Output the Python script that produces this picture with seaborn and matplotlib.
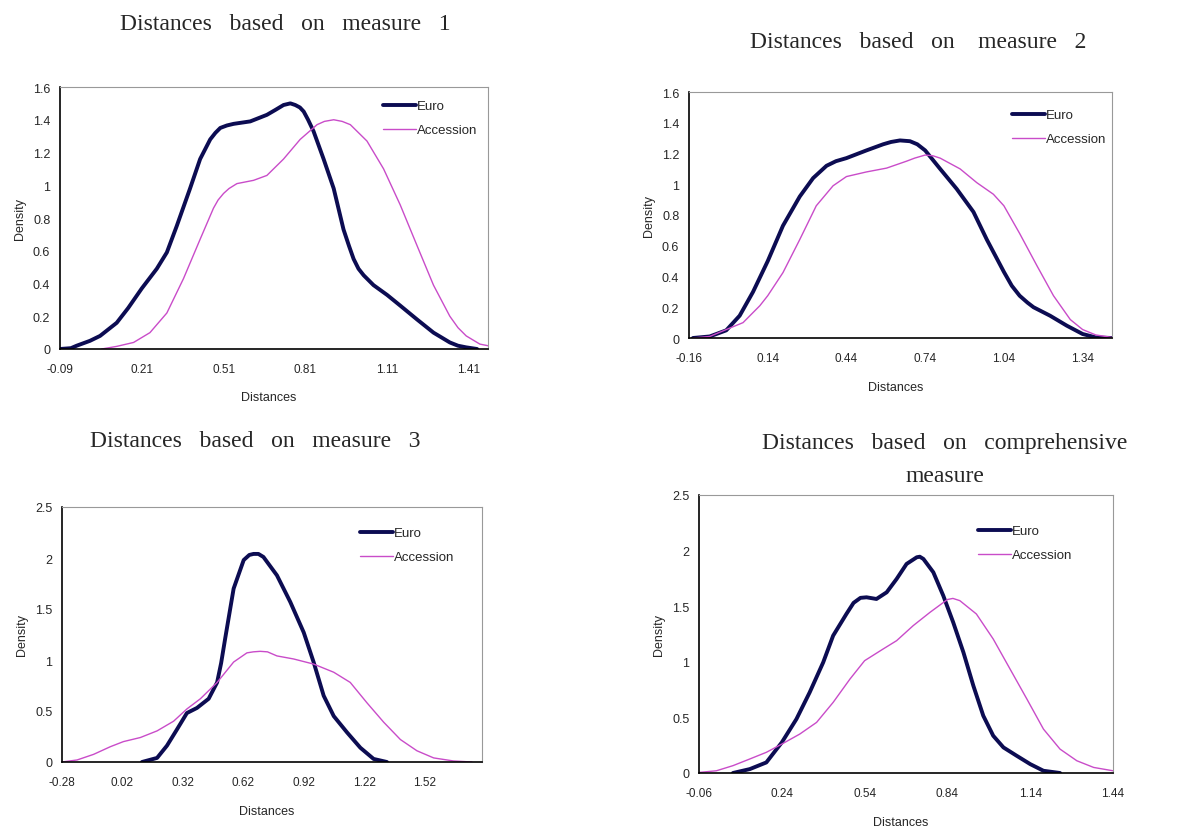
import numpy as np
import pandas as pd
import matplotlib
matplotlib.use("Agg")
import matplotlib.pyplot as plt
import seaborn as sns

# ---------------- data ----------------
series_names = ["Euro", "Accession"]

# Panel 1: measure 1
m1_euro_x = [-0.09, -0.05, -0.029, 0.02, 0.057, 0.118, 0.16, 0.21, 0.265, 0.302, 0.338, 0.387,
             0.424, 0.461, 0.48, 0.498, 0.522, 0.547, 0.608, 0.669, 0.70, 0.73, 0.755, 0.773,
             0.79, 0.804, 0.82, 0.84, 0.877, 0.914, 0.95, 0.97, 0.987, 1.005, 1.024, 1.06,
             1.11, 1.158, 1.22, 1.28, 1.34, 1.37, 1.40, 1.44]
m1_euro_y = [0.0, 0.005, 0.02, 0.05, 0.08, 0.16, 0.25, 0.37, 0.49, 0.59, 0.75, 0.98,
             1.16, 1.28, 1.32, 1.35, 1.365, 1.375, 1.39, 1.43, 1.46, 1.49, 1.50, 1.49,
             1.475, 1.45, 1.40, 1.33, 1.16, 0.98, 0.73, 0.63, 0.55, 0.49, 0.45, 0.39,
             0.33, 0.265, 0.18, 0.10, 0.04, 0.02, 0.01, 0.0]
m1_acc_x = [0.063, 0.118, 0.18, 0.24, 0.302, 0.363, 0.424, 0.473, 0.49, 0.51, 0.53, 0.559,
            0.62, 0.669, 0.73, 0.791, 0.853, 0.88, 0.914, 0.945, 0.975, 1.036, 1.097, 1.158,
            1.22, 1.28, 1.34, 1.37, 1.40, 1.45, 1.48]
m1_acc_y = [0.0, 0.016, 0.04, 0.10, 0.22, 0.43, 0.67, 0.86, 0.91, 0.95, 0.98, 1.01,
            1.03, 1.06, 1.16, 1.28, 1.37, 1.39, 1.40, 1.39, 1.37, 1.27, 1.10, 0.88,
            0.63, 0.39, 0.20, 0.13, 0.08, 0.03, 0.02]

# Panel 2: measure 2
m2_euro_x = [-0.145, -0.081, -0.018, 0.033, 0.084, 0.14, 0.198, 0.262, 0.313, 0.364, 0.40,
             0.44, 0.516, 0.58, 0.61, 0.644, 0.682, 0.71, 0.74, 0.797, 0.86, 0.924, 0.975,
             1.04, 1.07, 1.10, 1.13, 1.153, 1.216, 1.28, 1.34, 1.39, 1.45]
m2_euro_y = [0.0, 0.01, 0.05, 0.145, 0.30, 0.50, 0.73, 0.92, 1.04, 1.12, 1.15,
             1.17, 1.22, 1.26, 1.275, 1.285, 1.28, 1.26, 1.22, 1.10, 0.97, 0.82, 0.64,
             0.43, 0.34, 0.275, 0.23, 0.20, 0.145, 0.08, 0.026, 0.004, 0.0]
m2_acc_x = [-0.145, -0.081, -0.018, 0.046, 0.11, 0.14, 0.198, 0.262, 0.325, 0.389, 0.44,
            0.516, 0.593, 0.669, 0.70, 0.74, 0.77, 0.797, 0.873, 0.937, 1.0, 1.04, 1.10,
            1.166, 1.229, 1.293, 1.34, 1.39, 1.45]
m2_acc_y = [0.0, 0.01, 0.055, 0.10, 0.21, 0.275, 0.425, 0.64, 0.86, 0.99, 1.05,
            1.08, 1.105, 1.15, 1.17, 1.19, 1.185, 1.17, 1.10, 1.01, 0.935, 0.86, 0.68,
            0.47, 0.275, 0.12, 0.055, 0.02, 0.004]

# Panel 3: measure 3
m3_euro_x = [0.117, 0.192, 0.241, 0.291, 0.34, 0.39, 0.448, 0.49, 0.51, 0.53, 0.572, 0.622,
             0.65, 0.671, 0.695, 0.72, 0.787, 0.853, 0.92, 0.969, 1.019, 1.069, 1.135,
             1.201, 1.267, 1.333]
m3_euro_y = [0.0, 0.04, 0.16, 0.32, 0.48, 0.53, 0.62, 0.78, 0.97, 1.21, 1.70, 1.98,
             2.03, 2.04, 2.04, 2.01, 1.83, 1.57, 1.27, 0.98, 0.65, 0.45, 0.29,
             0.14, 0.03, 0.0]
m3_acc_x = [-0.28, -0.205, -0.123, -0.04, 0.025, 0.109, 0.192, 0.274, 0.34, 0.407, 0.49,
            0.572, 0.638, 0.67, 0.704, 0.74, 0.787, 0.87, 0.969, 1.069, 1.151, 1.234, 1.317,
            1.40, 1.482, 1.565, 1.664, 1.755]
m3_acc_y = [0.0, 0.02, 0.075, 0.15, 0.20, 0.24, 0.305, 0.40, 0.52, 0.62, 0.78,
            0.98, 1.07, 1.08, 1.085, 1.08, 1.04, 1.01, 0.96, 0.88, 0.78, 0.58, 0.39,
            0.22, 0.11, 0.04, 0.01, 0.0]

# Panel 4: comprehensive measure
m4_euro_x = [0.063, 0.124, 0.184, 0.24, 0.293, 0.341, 0.39, 0.426, 0.474, 0.50, 0.525, 0.547,
             0.583, 0.62, 0.656, 0.692, 0.729, 0.74, 0.753, 0.789, 0.825, 0.861, 0.898,
             0.934, 0.97, 1.006, 1.043, 1.091, 1.14, 1.188, 1.248]
m4_euro_y = [0.0, 0.035, 0.095, 0.275, 0.485, 0.725, 0.995, 1.235, 1.43, 1.53, 1.575, 1.58,
             1.565, 1.625, 1.745, 1.88, 1.94, 1.945, 1.925, 1.805, 1.595, 1.355, 1.085,
             0.785, 0.515, 0.335, 0.23, 0.155, 0.08, 0.02, 0.0]
m4_acc_x = [-0.06, 0.003, 0.063, 0.124, 0.184, 0.24, 0.305, 0.366, 0.426, 0.487, 0.54,
            0.607, 0.656, 0.716, 0.777, 0.84, 0.86, 0.885, 0.945, 1.006, 1.067, 1.128,
            1.188, 1.248, 1.309, 1.37, 1.44]
m4_acc_y = [0.005, 0.02, 0.066, 0.126, 0.186, 0.26, 0.35, 0.455, 0.635, 0.845, 1.01,
            1.115, 1.19, 1.325, 1.445, 1.56, 1.57, 1.55, 1.43, 1.205, 0.935, 0.665,
            0.395, 0.215, 0.11, 0.05, 0.02]

titles = ["Distances   based   on   measure   1", "Distances   based   on    measure   2",
          "Distances   based   on   measure   3", "Distances   based   on   comprehensive\nmeasure"]
xtick_labels = [["-0.09", "0.21", "0.51", "0.81", "1.11", "1.41"],
                ["-0.16", "0.14", "0.44", "0.74", "1.04", "1.34"],
                ["-0.28", "0.02", "0.32", "0.62", "0.92", "1.22", "1.52"],
                ["-0.06", "0.24", "0.54", "0.84", "1.14", "1.44"]]
ytick_labels = [["0", "0.2", "0.4", "0.6", "0.8", "1", "1.2", "1.4", "1.6"],
                ["0", "0.2", "0.4", "0.6", "0.8", "1", "1.2", "1.4", "1.6"],
                ["0", "0.5", "1", "1.5", "2", "2.5"],
                ["0", "0.5", "1", "1.5", "2", "2.5"]]
x_label = "Distances"
y_label = "Density"

panels = [
    (m1_euro_x, m1_euro_y, m1_acc_x, m1_acc_y),
    (m2_euro_x, m2_euro_y, m2_acc_x, m2_acc_y),
    (m3_euro_x, m3_euro_y, m3_acc_x, m3_acc_y),
    (m4_euro_x, m4_euro_y, m4_acc_x, m4_acc_y),
]

# ---------------- styling / layout ----------------
sns.set_style("white")
plt.rcParams["font.family"] = ["Liberation Sans", "DejaVu Sans"]

W, H = 1200, 829
fig = plt.figure(figsize=(W / 100, H / 100), dpi=100)

# axes boxes in pixels: left, right, top, bottom
boxes = [(60, 488, 88, 350), (689, 1112, 93, 339), (62, 482, 508, 763), (699, 1113, 496, 774)]
xlims = [(-0.09, 1.48), (-0.16, 1.452), (-0.28, 1.805), (-0.06, 1.44)]
ylims = [(0, 1.6), (0, 1.6), (0, 2.5), (0, 2.5)]
title_y = [25, 42, 442, 460]
title_x = [285, 918, 255, 945]
xlabel_y = [398, 388, 812, 823]
legend_pos = [(383, 113), (1012, 122), (360, 540), (978, 538)]

euro_color = "#0c0c52"
acc_color = "#c94cc9"

for i, (ex, ey, ax_, ay) in enumerate(panels):
    l, r, t, b = boxes[i]
    ax = fig.add_axes([l / W, 1 - b / H, (r - l) / W, (b - t) / H])
    df = pd.concat([
        pd.DataFrame({"x": ex, "y": ey, "series": series_names[0]}),
        pd.DataFrame({"x": ax_, "y": ay, "series": series_names[1]}),
    ], ignore_index=True)
    sns.lineplot(data=df, x="x", y="y", hue="series", size="series",
                 sizes={"Euro": 2.8, "Accession": 1.0},
                 palette={"Euro": euro_color, "Accession": acc_color},
                 sort=False, estimator=None, ax=ax, legend=False)
    for line in ax.lines:
        line.set_solid_capstyle("round")
        line.set_solid_joinstyle("round")
    ax.set_xlim(*xlims[i])
    ax.set_ylim(*ylims[i])
    xt = [float(s) for s in xtick_labels[i]]
    yt = [float(s) for s in ytick_labels[i]]
    ax.set_xticks(xt)
    ax.set_xticklabels(xtick_labels[i], fontsize=8.5)
    ax.set_yticks(yt)
    ax.set_yticklabels(ytick_labels[i], fontsize=9)
    ax.tick_params(axis="both", direction="out", length=4, width=1, color="black", pad=3)
    ax.tick_params(axis="x", pad=6)
    for side in ["top", "right"]:
        ax.spines[side].set_color("#999999")
        ax.spines[side].set_linewidth(0.8)
    for side in ["left", "bottom"]:
        ax.spines[side].set_color("black")
        ax.spines[side].set_linewidth(1.2)
    ax.set_xlabel("")
    ax.set_ylabel("")
    # axis labels
    fig.text(((l + r) / 2 - 5) / W, 1 - xlabel_y[i] / H, x_label, ha="center", va="center", fontsize=9)
    fig.text((l - 40) / W, 1 - ((t + b) / 2) / H, y_label, ha="center", va="center",
             rotation=90, fontsize=9)
    # title
    fig.text(title_x[i] / W, 1 - title_y[i] / H, titles[i], ha="center", va="center",
             fontsize=17, family=["Liberation Serif", "DejaVu Serif"], linespacing=1.75)
    # legend (no frame)
    lx, ly = legend_pos[i]
    handles = [plt.Line2D([], [], color=euro_color, lw=2.8),
               plt.Line2D([], [], color=acc_color, lw=1.0)]
    fig.legend(handles, series_names, loc="upper left",
               bbox_to_anchor=(lx / W, 1 - (ly - 12) / H), frameon=False,
               fontsize=9.5, handlelength=2.5, handletextpad=0.1, labelspacing=0.9,
               borderaxespad=0, borderpad=0)

fig.savefig("out.png", dpi=100, facecolor="white")
